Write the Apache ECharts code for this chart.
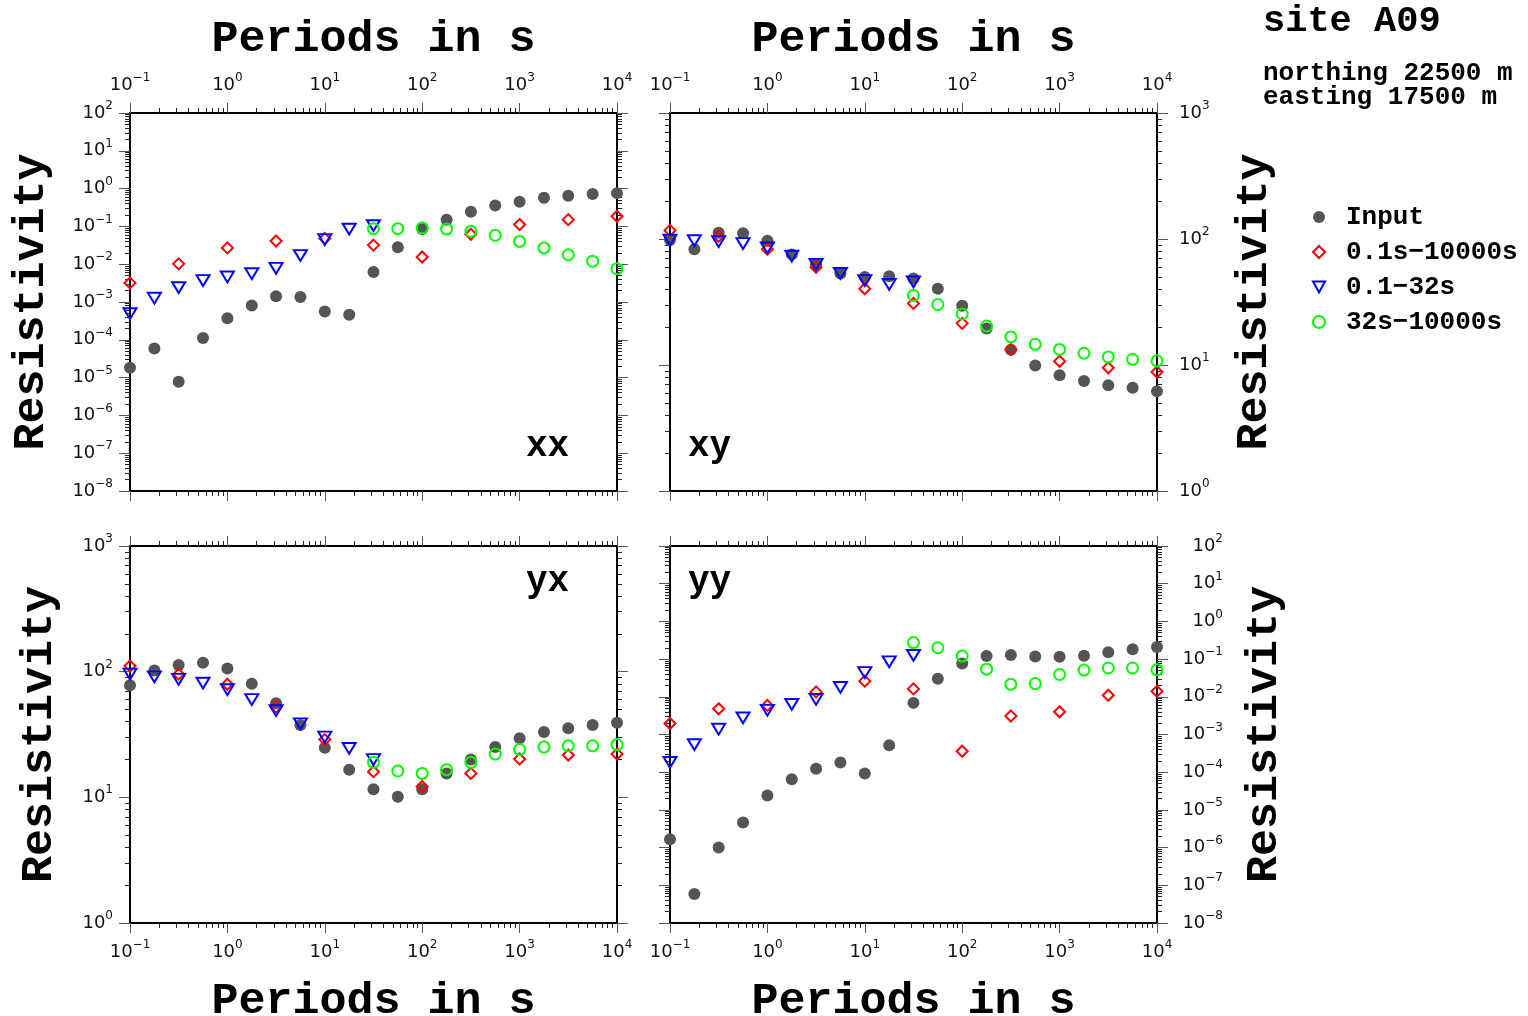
<!DOCTYPE html>
<html>
<head>
<meta charset="utf-8">
<script src="https://cdn.jsdelivr.net/npm/echarts@6/dist/echarts.min.js"></script>
<style>
  html, body { margin: 0; padding: 0; background: #fff; }
  #chart { width: 1528px; height: 1016px; }
</style>
</head>
<body>
<div id="chart"></div>
<script>
// periods (s)
const periods = [0.1, 0.178, 0.316, 0.562, 1, 1.78, 3.16, 5.62, 10, 17.8, 31.6, 56.2, 100, 178, 316, 562, 1000, 1780, 3160, 5620, 10000]
const periodsHalf = [0.1, 0.316, 1, 3.16, 10, 31.6, 100, 316, 1000, 3160, 10000]
const periodsShort = [0.1, 0.178, 0.316, 0.562, 1, 1.78, 3.16, 5.62, 10, 17.8, 31.6]
const periodsLong = [31.6, 56.2, 100, 178, 316, 562, 1000, 1780, 3160, 5620, 10000]

// xx
const xxInput = [1.82e-5, 5.9e-5, 7.8e-6, 1.12e-4, 3.7e-4, 8.1e-4, 1.41e-3, 1.35e-3, 5.6e-4, 4.6e-4, 6.2e-3, 2.8e-2, 8.5e-2, 0.151, 0.245, 0.355, 0.447, 0.575, 0.646, 0.724, 0.759]
const xxFull = [3.2e-3, 1.02e-2, 2.7e-2, 4.1e-2, 4.8e-2, 3.2e-2, 1.55e-2, 6.2e-2, 0.112, 0.151, 0.186]
const xxShort = [4.9e-4, 1.26e-3, 2.4e-3, 3.7e-3, 4.6e-3, 5.6e-3, 7.8e-3, 1.7e-2, 4.5e-2, 8.5e-2, 0.105]
const xxLong = [0.087, 0.087, 0.091, 0.085, 0.074, 0.058, 0.040, 0.027, 0.0178, 0.012, 0.0076]

// xy
const xyInput = [98, 83, 112, 111, 97, 75.5, 63, 53.3, 50, 50.7, 48.6, 40.3, 29.5, 19.5, 13.2, 9.9, 8.3, 7.45, 6.9, 6.6, 6.2]
const xyFull = [117, 105, 83, 59.6, 40.3, 30.8, 21.4, 13.3, 10.7, 9.5, 8.8]
const xyShort = [98, 97, 95.5, 92, 85, 73, 63, 53.3, 46.8, 43.6, 45.7]
const xyLong = [35.6, 30.2, 25.4, 20.4, 16.7, 14.6, 13.3, 12.4, 11.6, 11.1, 10.8]

// yx
const yxInput = [78, 102, 113, 118, 106, 80, 56, 37.7, 24.8, 16.6, 11.6, 10.1, 11.6, 15.5, 20, 25.1, 29.5, 33.1, 35.4, 37.7, 39.3]
const yxFull = [111, 95.5, 79.4, 52.5, 28.8, 16, 12.2, 15.5, 20.2, 21.7, 22.1]
const yxShort = [95.5, 91, 87, 81, 72, 60, 49, 38.5, 30.2, 24.5, 20]
const yxLong = [19, 16.2, 15.5, 16.6, 19, 22.1, 24, 25.1, 25.7, 25.7, 26.3]

// yy
const yyInput = [1.66e-6, 5.9e-8, 1.0e-6, 4.6e-6, 2.4e-5, 6.5e-5, 1.23e-4, 1.82e-4, 9.3e-5, 5.2e-4, 6.9e-3, 0.030, 0.076, 0.120, 0.129, 0.117, 0.115, 0.123, 0.151, 0.182, 0.209]
const yyFull = [1.95e-3, 4.8e-3, 5.9e-3, 1.35e-2, 2.6e-2, 1.62e-2, 3.6e-4, 3.1e-3, 4.0e-3, 1.1e-2, 1.41e-2]
const yyShort = [1.82e-4, 5.4e-4, 1.38e-3, 2.75e-3, 4.4e-3, 6.3e-3, 8.5e-3, 1.78e-2, 4.4e-2, 8.5e-2, 0.126]
const yyLong = [0.275, 0.2, 0.12, 0.054, 0.0214, 0.0224, 0.039, 0.051, 0.058, 0.058, 0.052]

// tick labels
const xTicks = [0.1, 1, 10, 100, 1000, 10000]
const yTicksWide = [1e-8, 1e-7, 1e-6, 1e-5, 1e-4, 1e-3, 1e-2, 1e-1, 1, 10, 100]
const yTicksXY = [1, 10, 100, 1000]

const legendNames = ['Input', '0.1s\u221210000s', '0.1\u221232s', '32s\u221210000s']

const MONO = 'Liberation Mono'
const SANS = 'DejaVu Sans'

// 2..9 between decades
function minorOf(majors) {
  const out = []
  for (let i = 0; i < majors.length - 1; i++) {
    for (let k = 2; k <= 9; k++) out.push(k * majors[i])
  }
  return out
}

function supLabel(v) {
  const e = Math.round(Math.log10(v))
  return '{b|10}{s|' + (e < 0 ? '\u2212' + (-e) : e) + '}'
}

const rich = {
  b: { fontFamily: SANS, fontSize: 18, color: '#111', lineHeight: 26 },
  s: { fontFamily: SANS, fontSize: 12, color: '#111', verticalAlign: 'top' }
}

const nameStyle = { fontFamily: MONO, fontWeight: 'bold', fontSize: 45, color: '#000' }

const panels = [
  { label: 'xx', left: 130, top: 113, width: 487, height: 378, yMin: 1e-8, yMax: 100, yTicks: yTicksWide,
    xSide: 'top', ySide: 'left', yGap: 76, labelPos: [526, 447],
    sets: [[periods, xxInput], [periodsHalf, xxFull], [periodsShort, xxShort], [periodsLong, xxLong]] },
  { label: 'xy', left: 670, top: 113, width: 487, height: 378, yMin: 1, yMax: 1000, yTicks: yTicksXY,
    xSide: 'top', ySide: 'right', yGap: 75, labelPos: [688, 447],
    sets: [[periods, xyInput], [periodsHalf, xyFull], [periodsShort, xyShort], [periodsLong, xyLong]] },
  { label: 'yx', left: 130, top: 546, width: 487, height: 377, yMin: 1, yMax: 1000, yTicks: yTicksXY,
    xSide: 'bottom', ySide: 'left', yGap: 68, labelPos: [526, 582],
    sets: [[periods, yxInput], [periodsHalf, yxFull], [periodsShort, yxShort], [periodsLong, yxLong]] },
  { label: 'yy', left: 670, top: 546, width: 487, height: 377, yMin: 1e-8, yMax: 100, yTicks: yTicksWide,
    xSide: 'bottom', ySide: 'right', yGap: 85, labelPos: [688, 582],
    sets: [[periods, yyInput], [periodsHalf, yyFull], [periodsShort, yyShort], [periodsLong, yyLong]] }
]

const markers = [
  { symbol: 'circle', symbolSize: 12, itemStyle: { color: '#555', opacity: 1 } },
  { symbol: 'diamond', symbolSize: 11, itemStyle: { color: 'rgba(0,0,0,0)', borderColor: '#ff0000', borderWidth: 2, opacity: 1 } },
  { symbol: 'path://M0,0L20,0L10,18Z', symbolSize: [13, 12], symbolKeepAspect: true,
    itemStyle: { color: 'rgba(0,0,0,0)', borderColor: '#0000ff', borderWidth: 2, opacity: 1 } },
  { symbol: 'circle', symbolSize: 11, itemStyle: { color: 'rgba(0,0,0,0)', borderColor: '#00ff00', borderWidth: 2, opacity: 1 } }
]

const grids = []
const xAxes = []
const yAxes = []
const series = []
const graphics = []

panels.forEach((p, g) => {
  grids.push({ left: p.left, top: p.top, width: p.width, height: p.height, containLabel: false, outerBoundsMode: 'none' })

  const xMinor = minorOf(xTicks)
  const yMinor = minorOf(p.yTicks)

  ;['bottom', 'top'].forEach((pos) => {
    const showLab = pos === p.xSide
    xAxes.push({
      type: 'log', logBase: 10, gridIndex: g, position: pos, min: 0.1, max: 10000,
      name: showLab ? 'Periods in s' : '', nameLocation: 'middle', nameGap: pos === 'top' ? 51 : 56,
      nameTextStyle: nameStyle,
      axisLine: { show: true, onZero: false, lineStyle: { color: '#000', width: 2 } },
      axisTick: { show: true, inside: false, length: 10, customValues: xTicks, lineStyle: { color: '#555', width: 1 } },
      axisLabel: { show: showLab, customValues: xTicks, formatter: supLabel, rich: rich,
        margin: pos === 'top' ? 15 : 16 },
      splitLine: { show: false }
    })
    xAxes.push({
      type: 'log', logBase: 10, gridIndex: g, position: pos, min: 0.1, max: 10000,
      axisLine: { show: false },
      axisTick: { show: true, inside: false, length: 5, customValues: xMinor, lineStyle: { color: '#222', width: 1 } },
      axisLabel: { show: false },
      splitLine: { show: false }
    })
  })

  ;['left', 'right'].forEach((pos) => {
    const showLab = pos === p.ySide
    const alignRight = pos === 'right' && p.yMin < 1e-3
    yAxes.push({
      type: 'log', logBase: 10, gridIndex: g, position: pos, min: p.yMin, max: p.yMax,
      name: showLab ? 'Resistivity' : '', nameLocation: 'middle', nameRotate: 90, nameGap: p.yGap,
      nameTextStyle: nameStyle,
      axisLine: { show: true, onZero: false, lineStyle: { color: '#000', width: 2 } },
      axisTick: { show: true, inside: false, length: 11, customValues: p.yTicks, lineStyle: { color: '#555', width: 1 } },
      axisLabel: { show: showLab, customValues: p.yTicks, formatter: supLabel, rich: rich,
        margin: alignRight ? 66 : (pos === 'left' ? 17 : 22), align: alignRight ? 'right' : undefined },
      splitLine: { show: false }
    })
    yAxes.push({
      type: 'log', logBase: 10, gridIndex: g, position: pos, min: p.yMin, max: p.yMax,
      axisLine: { show: false },
      axisTick: { show: true, inside: false, length: 5, customValues: yMinor, lineStyle: { color: '#222', width: 1 } },
      axisLabel: { show: false },
      splitLine: { show: false }
    })
  })

  p.sets.forEach((set, k) => {
    const m = markers[k]
    series.push({
      type: 'scatter',
      name: legendNames[k],
      xAxisIndex: g * 4,
      yAxisIndex: g * 4,
      symbol: m.symbol,
      symbolSize: m.symbolSize,
      symbolKeepAspect: !!m.symbolKeepAspect,
      itemStyle: m.itemStyle,
      clip: false,
      z: 2 + k,
      data: set[0].map((t, i) => [t, set[1][i]])
    })
  })

  graphics.push({
    type: 'text',
    style: { x: p.labelPos[0], y: p.labelPos[1], text: p.label, font: 'bold 36px "' + MONO + '"',
      fill: '#000', verticalAlign: 'middle' }
  })
})

graphics.push(
  { type: 'text', style: { x: 1263, y: 22, text: 'site A09', font: 'bold 37px "' + MONO + '"', fill: '#000', verticalAlign: 'middle' } },
  { type: 'text', style: { x: 1263, y: 73, text: 'northing 22500 m', font: 'bold 26px "' + MONO + '"', fill: '#000', verticalAlign: 'middle' } },
  { type: 'text', style: { x: 1263, y: 97, text: 'easting 17500 m', font: 'bold 26px "' + MONO + '"', fill: '#000', verticalAlign: 'middle' } }
)

const chart = echarts.init(document.getElementById('chart'))
chart.setOption({
  animation: false,
  backgroundColor: '#fff',
  grid: grids,
  xAxis: xAxes,
  yAxis: yAxes,
  legend: {
    orient: 'vertical',
    left: 1307,
    top: 199,
    itemWidth: 12,
    itemHeight: 12,
    itemGap: 9,
    data: legendNames,
    textStyle: { fontFamily: MONO, fontWeight: 'bold', fontSize: 26, lineHeight: 26, color: '#000', padding: [0, 0, 0, 16] }
  },
  graphic: graphics,
  series: series
})
</script>
</body>
</html>
